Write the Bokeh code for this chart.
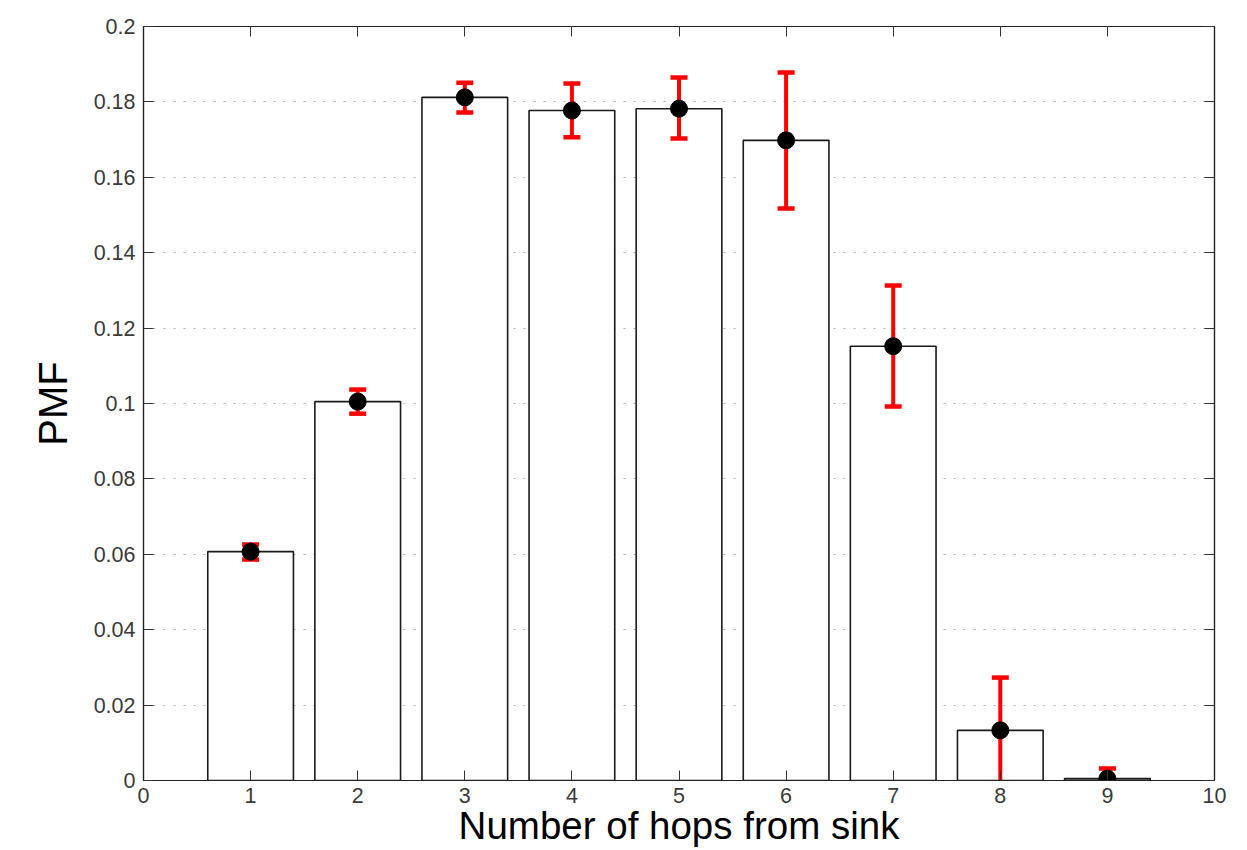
from bokeh.plotting import figure
from bokeh.models import ColumnDataSource, LinearAxis, FixedTicker, Range1d
from bokeh.embed import file_html
from bokeh.resources import INLINE

# ---- data ----
hops = [1, 2, 3, 4, 5, 6, 7, 8, 9]
pmf = [0.0607, 0.1005, 0.1812, 0.1777, 0.1782, 0.1698, 0.1152, 0.0133, 0.0005]
err_upper = [0.0626, 0.1037, 0.1851, 0.1849, 0.1865, 0.1878, 0.1313, 0.0273, 0.0032]
err_lower = [0.0586, 0.0973, 0.1772, 0.1706, 0.1703, 0.1517, 0.0992, -0.0007, -0.0022]
x_ticks = [0, 1, 2, 3, 4, 5, 6, 7, 8, 9, 10]
y_ticks = [0, 0.02, 0.04, 0.06, 0.08, 0.1, 0.12, 0.14, 0.16, 0.18, 0.2]
y_tick_labels = ["0", "0.02", "0.04", "0.06", "0.08", "0.1", "0.12", "0.14", "0.16", "0.18", "0.2"]
x_label = "Number of hops from sink"
y_label = "PMF"

FONT = "Liberation Sans"

src = ColumnDataSource(dict(x=hops, y=pmf, upper=err_upper, lower=err_lower))

p = figure(width=1247, height=850, output_backend="svg", toolbar_location=None,
           x_range=Range1d(0, 10), y_range=Range1d(0, 0.2),
           min_border_left=143, min_border_right=33, min_border_top=26, min_border_bottom=70)
p.background_fill_color = "white"
p.border_fill_color = "white"
p.outline_line_color = "#222222"
p.outline_line_width = 1.2

p.vbar(x="x", top="y", bottom=0, width=0.8, source=src,
       fill_color="white", line_color="#1a1a1a", line_width=1.6)

# error bars (red) drawn above the bars
p.segment(x0="x", y0="lower", x1="x", y1="upper", source=src,
          line_color="red", line_width=4)
p.scatter(x="x", y="upper", source=src, marker="dash", size=17,
          line_color="red", line_width=4.5)
p.scatter(x="x", y="lower", source=src, marker="dash", size=17,
          line_color="red", line_width=4.5)

p.scatter(x="x", y="y", source=src, size=17, fill_color="black", line_color="black")

# grid
p.xgrid.visible = False
p.ygrid.ticker = FixedTicker(ticks=y_ticks)
p.ygrid.grid_line_color = "#b0b0b0"
p.ygrid.grid_line_dash = "2 8"
p.ygrid.grid_line_width = 1

def style_axis(ax, show_labels=True):
    ax.axis_line_color = "#222222"
    ax.axis_line_width = 1.2
    ax.major_tick_in = 10
    ax.major_tick_out = 0
    ax.minor_tick_line_color = None
    ax.major_tick_line_color = "#333333"
    ax.major_tick_line_width = 1
    ax.major_label_text_font = FONT
    if show_labels:
        ax.major_label_text_color = "#3a3a3a"
        ax.major_label_text_font_size = "21.5px"
    else:
        ax.major_label_text_color = None
        ax.major_label_text_font_size = "6px"
        ax.major_label_standoff = 0

xa = p.xaxis[0]
xa.ticker = FixedTicker(ticks=x_ticks)
style_axis(xa)
xa.major_label_standoff = 7
xa.axis_label = x_label
xa.axis_label_text_font = FONT
xa.axis_label_text_font_size = "38.5px"
xa.axis_label_text_font_style = "normal"
xa.axis_label_text_color = "black"
xa.axis_label_standoff = -2

ya = p.yaxis[0]
ya.ticker = FixedTicker(ticks=y_ticks)
ya.major_label_overrides = {t: s for t, s in zip(y_ticks, y_tick_labels)}
style_axis(ya)
ya.major_label_standoff = 8
ya.axis_label = y_label
ya.axis_label_text_font = FONT
ya.axis_label_text_font_size = "40px"
ya.axis_label_text_font_style = "normal"
ya.axis_label_text_color = "black"
ya.axis_label_standoff = 16

top_ax = LinearAxis(ticker=FixedTicker(ticks=x_ticks))
style_axis(top_ax, show_labels=False)
p.add_layout(top_ax, "above")
right_ax = LinearAxis(ticker=FixedTicker(ticks=y_ticks))
style_axis(right_ax, show_labels=False)
p.add_layout(right_ax, "right")

open("out.html", "w").write(file_html(p, INLINE))
